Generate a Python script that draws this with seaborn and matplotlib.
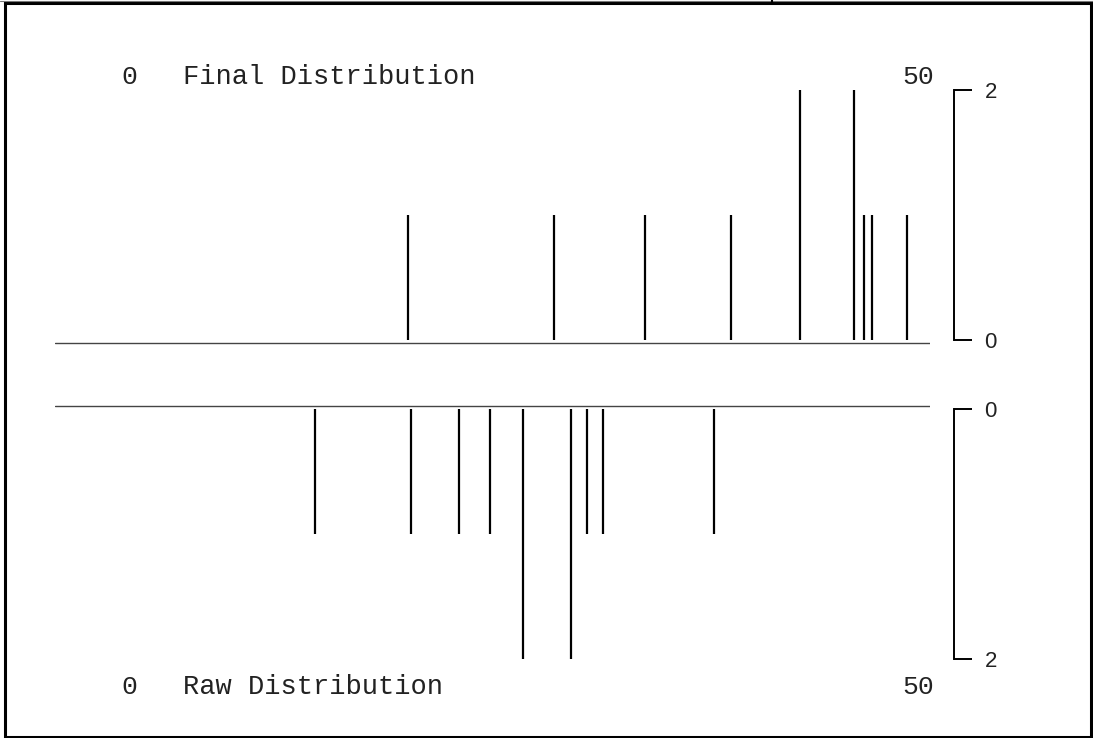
import matplotlib
matplotlib.use("Agg")
import matplotlib.pyplot as plt
from matplotlib.patches import Rectangle
from matplotlib.lines import Line2D
import seaborn as sns

# positions (0-50 scale) and counts of the sticks
final_pos = [20.17, 28.51, 33.71, 38.63, 42.57, 45.66, 46.23, 46.69, 48.69]
final_cnt = [1, 1, 1, 1, 2, 2, 1, 1, 1]
raw_pos = [14.86, 20.34, 23.09, 24.86, 26.74, 29.49, 30.40, 31.31, 37.66]
raw_cnt = [1, 1, 1, 1, 2, 2, 1, 1, 1]
x_range = [0, 50]
y_ticks = [0, 2]
titles = ["Final Distribution", "Raw Distribution"]

sns.set_theme(style="white")
mono = ["Liberation Mono", "DejaVu Sans Mono"]
plt.rcParams["font.family"] = ["Liberation Sans", "DejaVu Sans"]

W, H = 1093, 738
fig = plt.figure(figsize=(W / 100, H / 100), dpi=100)
fig.patch.set_facecolor("white")


def px_axes(left, top, right, bottom):
    return fig.add_axes([left / W, 1 - bottom / H, (right - left) / W, (bottom - top) / H])


ax_top = px_axes(55, 50, 930, 350)
ax_bot = px_axes(55, 398, 930, 700)

for ax, pos, cnt, title, top_panel in [
    (ax_top, final_pos, final_cnt, titles[0], True),
    (ax_bot, raw_pos, raw_cnt, titles[1], False),
]:
    ax.set_facecolor("none")
    ax.vlines(pos, 0, cnt, color="black", linewidth=1.6)
    ax.axhline(-0.024, color="#444444", linewidth=1.0)
    ax.set_xlim(x_range)
    if top_panel:
        ax.set_ylim(-0.08, 2.32)
    else:
        ax.set_ylim(2.328, -0.088)
    sns.despine(ax=ax, left=True, bottom=True, top=True, right=False)
    ax.spines["right"].set_position(("outward", 17.3))
    ax.spines["right"].set_bounds(0, 2)
    ax.spines["right"].set_color("black")
    ax.spines["right"].set_linewidth(1.4)
    ax.set_xticks([])
    ax.yaxis.tick_right()
    ax.set_yticks(y_ticks)
    ax.tick_params(axis="y", which="both", direction="out", length=13, width=1.4,
                   color="black", pad=9, labelsize=16, labelcolor="#222222",
                   right=True, left=False)
    ty = 0.91 if top_panel else 0.043
    ax.text(0.0754, ty, str(x_range[0]), transform=ax.transAxes, ha="left", va="center",
            family=mono, fontsize=19, color="#222222")
    ax.text(0.1463, ty, title, transform=ax.transAxes, ha="left", va="center",
            family=mono, fontsize=19.5, color="#222222")
    ax.text(1.0046, ty, str(x_range[1]), transform=ax.transAxes, ha="right", va="center",
            family=mono, fontsize=19, color="#222222")

# frame around the picture
fig.patches.append(Rectangle((4.5 / W, 1.0 / H), 1086 / W, 734 / H, transform=fig.transFigure,
                             fill=False, edgecolor="black", linewidth=2.2))
fig.lines.append(Line2D([0, 1], [1 - 0.5 / H, 1 - 0.5 / H], transform=fig.transFigure,
                        color="#777777", linewidth=0.8))
fig.lines.append(Line2D([772 / W, 772 / W], [1, 1 - 3 / H], transform=fig.transFigure,
                        color="black", linewidth=1.5))

fig.savefig("out.png", dpi=100)
